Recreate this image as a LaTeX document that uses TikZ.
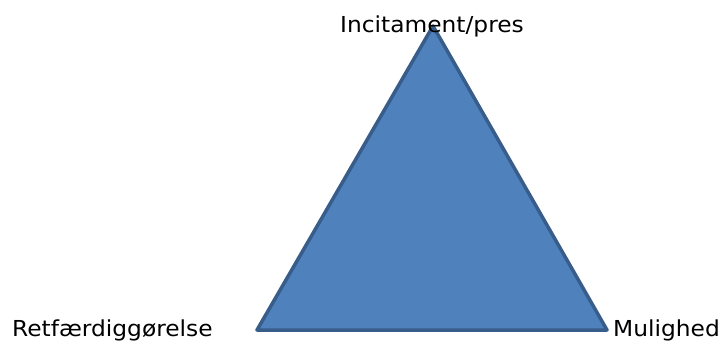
\documentclass[tikz,border=0pt]{standalone}
\usepackage{fontspec}
\setmainfont{DejaVu Sans}[FakeStretch=1.06]
\definecolor{fillblue}{HTML}{4F81BD}
\definecolor{edgeblue}{HTML}{385D8A}
\begin{document}
\begin{tikzpicture}[x=1pt,y=-1pt,
  lbl/.style={font=\fontsize{22}{26}\selectfont, inner sep=0pt, text=black}]
\useasboundingbox (0,0) rectangle (722,342);
\coordinate (top) at (433,26);
\coordinate (bl) at (257,330);
\coordinate (br) at (607,330);
\filldraw[fill=fillblue, draw=edgeblue, line width=3.5pt, line join=round] (top) -- (bl) -- (br) -- cycle;
\node[lbl, anchor=base] (inc) at (432,33) {Incitament/pres};
\node[lbl, anchor=base west] (ret) at (12,336) {Retfærdiggørelse};
\node[lbl, anchor=base west] (mul) at (613,336) {Mulighed};
\end{tikzpicture}
\end{document}
